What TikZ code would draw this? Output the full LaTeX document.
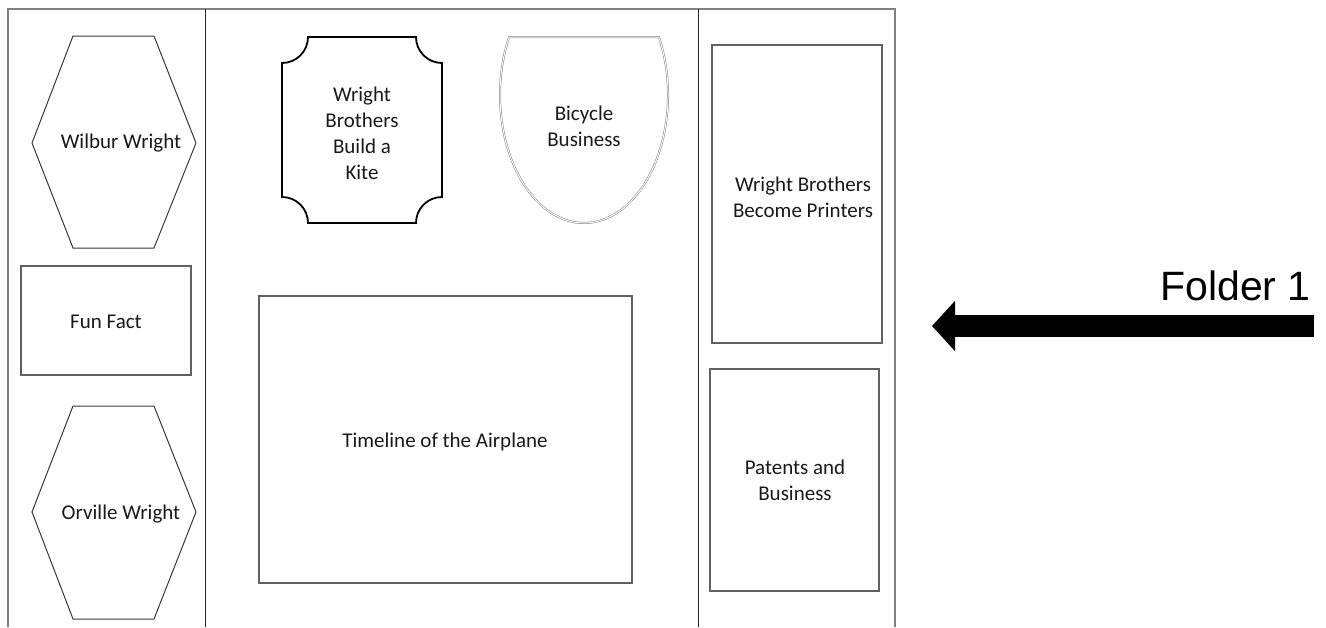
\documentclass[tikz,border=0pt]{standalone}
\usepackage{fontspec}
\setmainfont{Carlito}
\newfontfamily\folderfont{Liberation Sans}
\usetikzlibrary{arrows.meta}
\tikzset{
  frameline/.style={draw=black!50, line width=1.4pt},
  divider/.style={draw=black!85, line width=1pt},
  boxline/.style={draw=black!62, line width=1.2pt},
  hexline/.style={draw=black!78, line width=1pt},
  kiteline/.style={draw=black, line width=1.8pt},
  bikeline/.style={draw=black!50, double=white, double distance=1pt, line width=0.5pt},
  label/.style={align=center, font=\fontsize{21}{26}\selectfont, inner sep=0pt, text=black!90},
  bigarrow/.style={line width=22pt, -{Triangle[length=23pt,width=49pt]}},
}
\begin{document}
\begin{tikzpicture}[x=1pt,y=-1pt]
\useasboundingbox (0,0) rectangle (1326,627);
% outer frame
\draw[frameline] (8,627) -- (8,9) -- (895,9) -- (895,627);
\draw[divider] (205,9) -- (205,627);
\draw[divider] (698,9) -- (698,627);
% hexagons
\draw[hexline] (73,36) -- (154,36) -- (196,143) -- (154,248) -- (73,248) -- (32,143) -- cycle;
\node[label] (wilbur) at (121,143) {Wilbur Wright};
\draw[hexline] (73,406) -- (154,406) -- (196,512) -- (154,619) -- (73,619) -- (32,512) -- cycle;
\node[label] (orville) at (121,514) {Orville Wright};
% fun fact
\draw[boxline] (21,266) rectangle (191,375);
\node[label] (funfact) at (106,322) {Fun Fact};
% kite plaque
\draw[kiteline] (308,37) -- (416,37) .. controls (416,51.4) and (427.6,63) .. (442,63)
  -- (442,197) .. controls (427.6,197) and (416,208.6) .. (416,223)
  -- (308,223) .. controls (308,208.6) and (296.4,197) .. (282,197)
  -- (282,63) .. controls (296.4,63) and (308,51.4) .. (308,37) -- cycle;
\node[label] (kite) at (362,133) {Wright\\Brothers\\Build a\\Kite};
% bicycle
\draw[bikeline] (584,95) ++(-26.9:84 and 128) arc[start angle=-26.9, end angle=206.9, x radius=84, y radius=128] -- cycle;
\node[label] (bike) at (584,126) {Bicycle\\Business};
% timeline
\draw[boxline] (259,296) rectangle (632,583);
\node[label] (timeline) at (445,442) {Timeline of the Airplane};
% right column
\draw[boxline] (712,45) rectangle (882,343);
\node[label] (printers) at (803,197) {Wright Brothers\\Become Printers};
\draw[boxline] (710,369) rectangle (879,591);
\node[label] (patents) at (795,480) {Patents and\\Business};
% folder label and arrow
\node[anchor=base east, inner sep=0pt, font=\folderfont\fontsize{41}{48}\selectfont] (folder) at (1311,300) {Folder 1};
\coordinate (astart) at (1314,326);
\coordinate (aend) at (932,326);
\draw[bigarrow] (astart) -- (aend);
\end{tikzpicture}
\end{document}
